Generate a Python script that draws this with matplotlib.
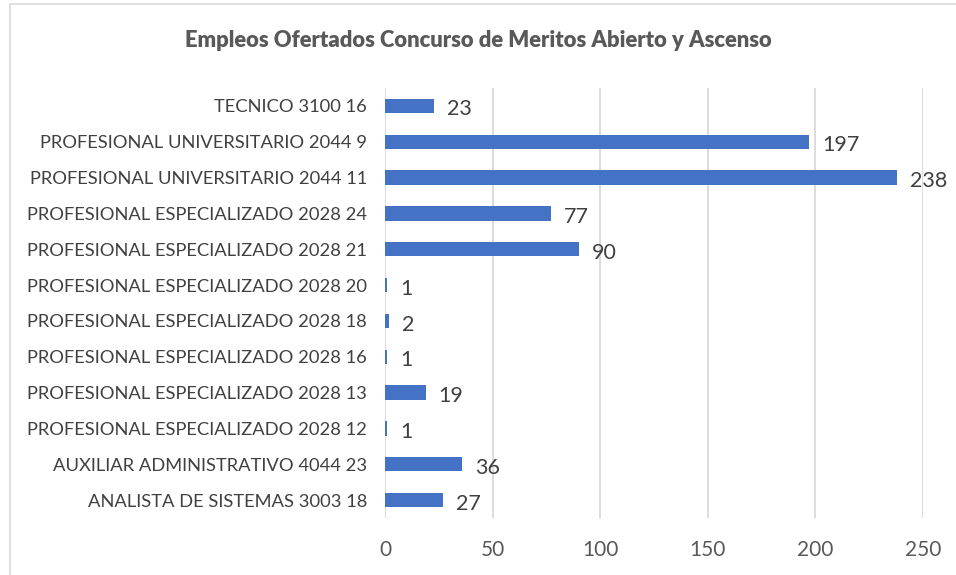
import matplotlib.pyplot as plt
from matplotlib.patches import Rectangle

categories = [
    "TECNICO 3100 16",
    "PROFESIONAL UNIVERSITARIO 2044 9",
    "PROFESIONAL UNIVERSITARIO 2044 11",
    "PROFESIONAL ESPECIALIZADO 2028 24",
    "PROFESIONAL ESPECIALIZADO 2028 21",
    "PROFESIONAL ESPECIALIZADO 2028 20",
    "PROFESIONAL ESPECIALIZADO 2028 18",
    "PROFESIONAL ESPECIALIZADO 2028 16",
    "PROFESIONAL ESPECIALIZADO 2028 13",
    "PROFESIONAL ESPECIALIZADO 2028 12",
    "AUXILIAR ADMINISTRATIVO 4044 23",
    "ANALISTA DE SISTEMAS 3003 18",
]
values = [23, 197, 238, 77, 90, 1, 2, 1, 19, 1, 36, 27]
xticks = [0, 50, 100, 150, 200, 250]

plt.rcParams["font.family"] = ["Lato", "DejaVu Sans"]

fig = plt.figure(figsize=(9.56, 5.75), dpi=100)
ax = fig.add_axes([0.4027, 0.099, 0.5628, 0.748])

pos = list(range(len(categories)))
ax.barh(pos, values, height=0.4, color="#4472C4", zorder=3)
for y, v in zip(pos, values):
    ax.text(v + 6, y + 0.1, str(v), va="center", ha="left",
            fontsize=15.5, color="#404040")

ax.set_xlim(0, 250)
ax.set_ylim(len(categories) - 0.5, -0.5)
ax.set_yticks(pos)
ax.set_yticklabels(categories, fontsize=13.2, color="#404040")
ax.set_xticks(xticks)
ax.set_xticklabels([str(t) for t in xticks], fontsize=15, color="#595959")
ax.tick_params(length=0)
ax.tick_params(axis="x", pad=16)
ax.tick_params(axis="y", pad=13)
ax.grid(axis="x", color="#D9D9D9", linewidth=1.3, zorder=0)
for s in ax.spines.values():
    s.set_visible(False)

fig.text(0.5, 0.93, "Empleos Ofertados Concurso de Meritos Abierto y Ascenso",
         ha="center", va="center", fontsize=15.8, fontweight="heavy",
         color="#595959")

fig.patches.append(Rectangle((10 / 956, -0.02), 1.0, 1 - 4 / 575 + 0.02,
                             transform=fig.transFigure, fill=False,
                             edgecolor="#D9D9D9", linewidth=1.2))

fig.savefig("out.png", dpi=100)
